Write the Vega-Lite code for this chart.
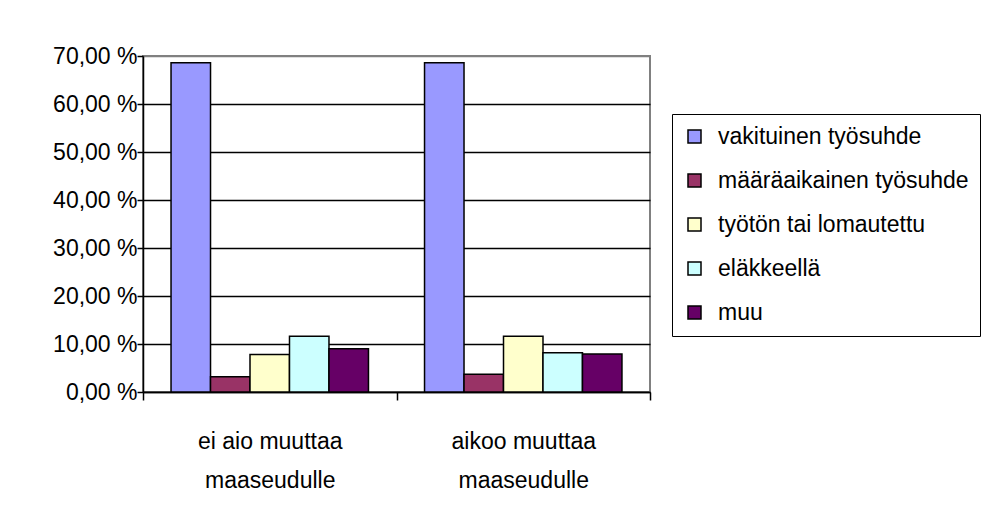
{
  "$schema": "https://vega.github.io/schema/vega-lite/v6.json",
  "autosize": {"type": "none"},
  "width": 507,
  "height": 336,
  "padding": {"left": 143, "top": 56, "right": 339, "bottom": 132},
  "background": "white",
  "data": {
    "values": [
      {"ryhma": "ei aio muuttaa maaseudulle", "tilanne": "vakituinen työsuhde", "osuus": 68.6},
      {"ryhma": "ei aio muuttaa maaseudulle", "tilanne": "määräaikainen työsuhde", "osuus": 3.2},
      {"ryhma": "ei aio muuttaa maaseudulle", "tilanne": "työtön tai lomautettu", "osuus": 7.8},
      {"ryhma": "ei aio muuttaa maaseudulle", "tilanne": "eläkkeellä", "osuus": 11.6},
      {"ryhma": "ei aio muuttaa maaseudulle", "tilanne": "muu", "osuus": 9.0},
      {"ryhma": "aikoo muuttaa maaseudulle", "tilanne": "vakituinen työsuhde", "osuus": 68.6},
      {"ryhma": "aikoo muuttaa maaseudulle", "tilanne": "määräaikainen työsuhde", "osuus": 3.7},
      {"ryhma": "aikoo muuttaa maaseudulle", "tilanne": "työtön tai lomautettu", "osuus": 11.6},
      {"ryhma": "aikoo muuttaa maaseudulle", "tilanne": "eläkkeellä", "osuus": 8.2},
      {"ryhma": "aikoo muuttaa maaseudulle", "tilanne": "muu", "osuus": 7.9}
    ]
  },
  "mark": {"type": "bar", "stroke": "black", "strokeWidth": 1.5},
  "encoding": {
    "x": {
      "field": "ryhma",
      "type": "nominal",
      "sort": ["ei aio muuttaa maaseudulle", "aikoo muuttaa maaseudulle"],
      "scale": {"paddingInner": 0, "paddingOuter": 0},
      "axis": {
        "title": null,
        "labelAngle": 0,
        "tickBand": "extent",
        "tickSize": 8,
        "tickColor": "black",
        "tickWidth": 1.5,
        "domainColor": "black",
        "domainWidth": 1.5,
        "labelFont": "Liberation Sans",
        "labelFontSize": 23,
        "labelColor": "black",
        "labelPadding": 30,
        "labelLineHeight": 39,
        "labelExpr": "datum.value == 'ei aio muuttaa maaseudulle' ? ['ei aio muuttaa', 'maaseudulle'] : (datum.value == 'aikoo muuttaa maaseudulle' ? ['aikoo muuttaa', 'maaseudulle'] : '')",
        "grid": false
      }
    },
    "xOffset": {
      "field": "tilanne",
      "type": "nominal",
      "sort": ["vakituinen työsuhde", "määräaikainen työsuhde", "työtön tai lomautettu", "eläkkeellä", "muu"],
      "scale": {"paddingInner": 0, "paddingOuter": 0.71}
    },
    "y": {
      "field": "osuus",
      "type": "quantitative",
      "scale": {"domain": [0, 70], "nice": false},
      "axis": {
        "title": null,
        "values": [0, 10, 20, 30, 40, 50, 60, 70],
        "labelExpr": "replace(format(datum.value, '.2f'), '.', ',') + ' %'",
        "labelFont": "Liberation Sans",
        "labelFontSize": 23,
        "labelColor": "black",
        "labelPadding": 0,
        "tickSize": 6,
        "tickColor": "black",
        "tickWidth": 1.5,
        "domainColor": "black",
        "domainWidth": 1.5,
        "grid": true,
        "gridColor": {"condition": {"test": "datum.value >= 70", "value": "#808080"}, "value": "black"},
        "gridWidth": 1.5
      }
    },
    "color": {
      "field": "tilanne",
      "type": "nominal",
      "sort": ["vakituinen työsuhde", "määräaikainen työsuhde", "työtön tai lomautettu", "eläkkeellä", "muu"],
      "scale": {
        "domain": ["vakituinen työsuhde", "määräaikainen työsuhde", "työtön tai lomautettu", "eläkkeellä", "muu"],
        "range": ["#9999FF", "#993366", "#FFFFCC", "#CCFFFF", "#660066"]
      },
      "legend": {
        "title": null,
        "orient": "none",
        "legendX": 529,
        "legendY": 58,
        "padding": 11,
        "strokeColor": "black",
        "fillColor": "white",
        "symbolType": "square",
        "symbolSize": 169,
        "symbolStrokeColor": "black",
        "symbolStrokeWidth": 1.5,
        "symbolOpacity": 1,
        "labelFont": "Liberation Sans",
        "labelFontSize": 23,
        "labelColor": "black",
        "labelOffset": 12,
        "labelLimit": 400,
        "rowPadding": 20
      }
    }
  },
  "config": {
    "view": {"stroke": "#808080", "strokeWidth": 2}
  }
}
